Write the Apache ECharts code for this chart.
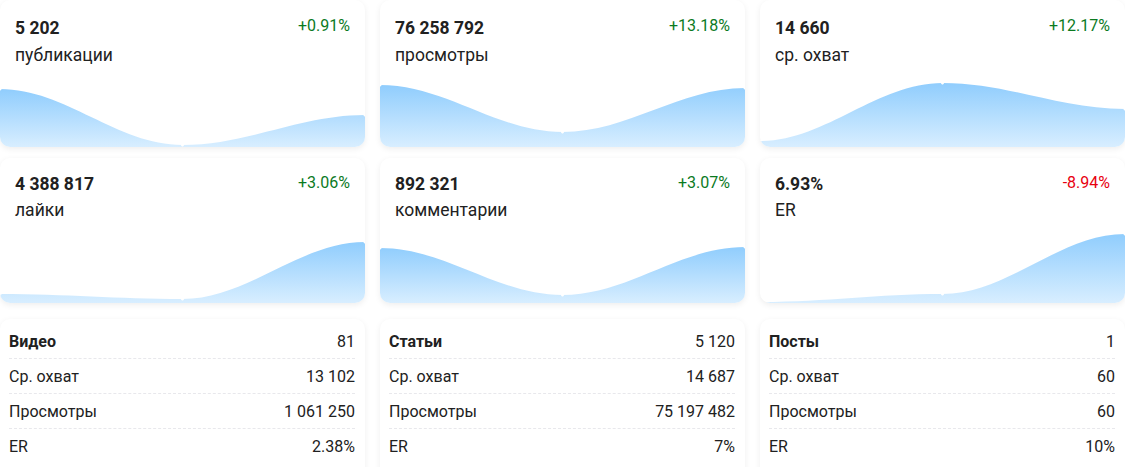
<!DOCTYPE html>
<html>
<head>
<meta charset="utf-8">
<script src="https://cdn.jsdelivr.net/npm/echarts@6/dist/echarts.min.js"></script>
<style>
html, body { margin: 0; padding: 0; background: #fff; overflow: hidden; }
body { width: 1125px; height: 467px; position: relative; font-family: Roboto, sans-serif; color: #212121; }
.card { position: absolute; width: 365px; background: #fff; border-radius: 10px; overflow: hidden; box-shadow: 0 2px 6px rgba(0, 0, 0, 0.07); }
.value { position: absolute; left: 15px; font-size: 17.5px; line-height: 20px; font-weight: 700; }
.name { position: absolute; left: 15px; font-size: 17.5px; line-height: 20px; }
.delta { position: absolute; right: 15px; font-size: 16px; line-height: 20px; }
.spark { position: absolute; left: 0; bottom: 0; width: 365px; height: 80px; }
.row { position: absolute; left: 9px; width: 346px; height: 35px; line-height: 36px; font-size: 16px; box-sizing: border-box; border-bottom: 1px dashed #e8e8ec; display: flex; justify-content: space-between; }
.row:last-child { border-bottom: 0; }
.row b { font-weight: 700; }
</style>
</head>
<body>
<script>
// top cards
const cardValues = ['5 202', '76 258 792', '14 660', '4 388 817', '892 321', '6.93%'];
const cardNames = ['публикации', 'просмотры', 'ср. охват', 'лайки', 'комментарии', 'ER'];
const cardDeltas = ['+0.91%', '+13.18%', '+12.17%', '+3.06%', '+3.07%', '-8.94%'];

// sparkline values, three periods each
const sparkPublications = [58, 2, 32];
const sparkViews = [62, 15, 59];
const sparkReach = [6, 64, 38];
const sparkLikes = [9, 4, 61];
const sparkComments = [55, 8, 56];
const sparkEr = [1, 9, 69];
const sparkData = [sparkPublications, sparkViews, sparkReach, sparkLikes, sparkComments, sparkEr];
// the first and last category sit outside the visible range, they keep the curve flat at the edges
const sparkPeriods = ['0', '1', '2', '3', '4'];

// bottom tables
const rowNames = ['Ср. охват', 'Просмотры', 'ER'];
const tableTitles = ['Видео', 'Статьи', 'Посты'];
const tableCounts = ['81', '5 120', '1'];
const tableReach = ['13 102', '14 687', '60'];
const tableViews = ['1 061 250', '75 197 482', '60'];
const tableEr = ['2.38%', '7%', '10%'];

const colX = [0, 380, 760];

function addCard(left, top, height) {
    const el = document.createElement('div');
    el.className = 'card';
    el.style.left = left + 'px';
    el.style.top = top + 'px';
    el.style.height = height + 'px';
    document.body.appendChild(el);
    return el;
}

function drawSpark(el, data) {
    const myChart = echarts.init(el, null, { renderer: 'svg' });
    myChart.setOption({
        animation: false,
        grid: { left: 0, right: 0, top: 0, bottom: 0 },
        xAxis: { type: 'category', show: false, boundaryGap: false, data: sparkPeriods, min: 1, max: 3 },
        yAxis: { type: 'value', show: false, min: 0, max: 80 },
        series: [{
            type: 'line',
            data: [data[0], data[0], data[1], data[2], data[2]],
            smooth: 0.36,
            smoothMonotone: 'x',
            symbol: 'circle',
            symbolSize: 3,
            showSymbol: true,
            itemStyle: { color: '#fff' },
            lineStyle: { width: 0 },
            areaStyle: {
                opacity: 1,
                color: new echarts.graphic.LinearGradient(0, 0, 0, 1, [
                    { offset: 0, color: '#90cdfd' },
                    { offset: 1, color: '#d8eeff' }
                ])
            }
        }]
    });
}

cardValues.forEach((value, i) => {
    const firstRow = i < 3;
    const el = addCard(colX[i % 3], firstRow ? 0 : 158, firstRow ? 147 : 145);
    const deltaColor = cardDeltas[i][0] === '-' ? '#e8000f' : '#0b7a1f';
    el.innerHTML = '<div class="value" style="top:' + (firstRow ? 18 : 16) + 'px">' + value + '</div>'
        + '<div class="name" style="top:' + (firstRow ? 45 : 42) + 'px">' + cardNames[i] + '</div>'
        + '<div class="delta" style="top:' + (firstRow ? 16 : 15) + 'px;color:' + deltaColor + '">' + cardDeltas[i] + '</div>'
        + '<div class="spark"></div>';
    drawSpark(el.querySelector('.spark'), sparkData[i]);
});

tableTitles.forEach((title, i) => {
    const el = addCard(colX[i], 319, 170);
    const rows = [
        ['<b>' + title + '</b>', tableCounts[i]],
        [rowNames[0], tableReach[i]],
        [rowNames[1], tableViews[i]],
        [rowNames[2], tableEr[i]]
    ];
    el.innerHTML = rows.map((r, j) =>
        '<div class="row" style="top:' + (5 + j * 35) + 'px"><span>' + r[0] + '</span><span>' + r[1] + '</span></div>').join('');
});
</script>
</body>
</html>
